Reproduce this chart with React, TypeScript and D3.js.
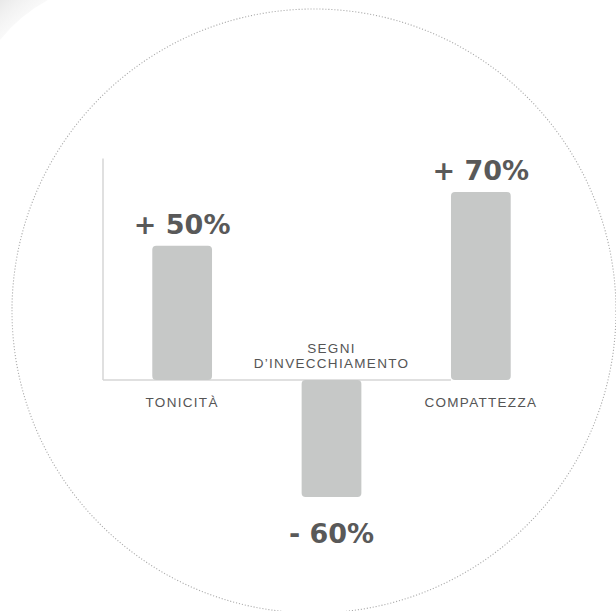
import { useEffect, useRef } from 'react';
import * as d3 from 'd3';

const categories = ['TONICITÀ', 'SEGNI\nD\u2019INVECCHIAMENTO', 'COMPATTEZZA'];
const values = [50, -60, 70];
const valueLabels = ['+ 50%', '- 60%', '+ 70%'];

const W = 616;
const H = 611;

export default function App() {
  const svgRef = useRef<SVGSVGElement>(null);

  useEffect(() => {
    if (!svgRef.current) return;
    const svg = d3.select(svgRef.current);
    svg.selectAll('*').remove();

    svg.append('rect').attr('width', W).attr('height', H).attr('fill', '#fff');

    // faint background swoosh, top left
    const grad = svg.append('defs').append('linearGradient')
      .attr('id', 'swoosh').attr('x1', 0).attr('y1', 0).attr('x2', 1).attr('y2', 1);
    grad.append('stop').attr('offset', 0).attr('stop-color', '#e9e9e9');
    grad.append('stop').attr('offset', 1).attr('stop-color', '#fff').attr('stop-opacity', 0);
    svg.append('path')
      .attr('d', 'M0,0 L48,0 Q20,15 0,40 Z')
      .attr('fill', 'url(#swoosh)');

    // decorative dotted circle
    svg.append('circle')
      .attr('cx', 314)
      .attr('cy', 311)
      .attr('r', 302)
      .attr('fill', 'none')
      .attr('stroke', '#a9a9a9')
      .attr('stroke-width', 1.1)
      .attr('stroke-dasharray', '1.1 1.9');

    const x = d3.scaleBand<string>()
      .domain(categories)
      .range([103, 560])
      .paddingInner(0.6)
      .paddingOuter(0.33);

    // the picture does not draw negative and positive bars to the same scale
    const y = d3.scaleLinear()
      .domain([-60, 0, 70])
      .range([497, 380, 192]);

    const g = svg.append('g');

    // axes
    g.append('line')
      .attr('x1', x.range()[0]).attr('x2', x.range()[0])
      .attr('y1', y(82.5)).attr('y2', y(0))
      .attr('stroke', '#d6d6d6').attr('stroke-width', 1.5);
    g.append('line')
      .attr('x1', x.range()[0]).attr('x2', x(categories[2])!)
      .attr('y1', y(0)).attr('y2', y(0))
      .attr('stroke', '#d6d6d6').attr('stroke-width', 1.5);

    const data = categories.map((c, i) => ({ c, v: values[i], label: valueLabels[i] }));

    // bars
    g.selectAll('.bar')
      .data(data)
      .enter()
      .append('rect')
      .attr('class', 'bar')
      .attr('x', d => x(d.c)!)
      .attr('width', x.bandwidth())
      .attr('y', d => Math.min(y(d.v), y(0)))
      .attr('height', d => Math.abs(y(d.v) - y(0)))
      .attr('rx', 4)
      .attr('fill', '#c6c8c7');

    // value labels
    g.selectAll('.val')
      .data(data)
      .enter()
      .append('text')
      .attr('class', 'val')
      .attr('x', d => x(d.c)! + x.bandwidth() / 2)
      .attr('y', d => d.v >= 0 ? y(d.v) - 12 : y(d.v) + 46)
      .attr('text-anchor', 'middle')
      .attr('font-family', '"DejaVu Sans", sans-serif')
      .attr('font-weight', 'bold')
      .attr('font-size', 27)
      .attr('fill', '#595959')
      .text(d => d.label);

    // category labels
    data.forEach(d => {
      const lines = d.c.split('\n');
      const t = g.append('text')
        .attr('text-anchor', 'middle')
        .attr('font-family', '"Liberation Sans", Arial, sans-serif')
        .attr('font-size', 13.5)
        .attr('letter-spacing', 1.3)
        .attr('fill', '#555');
      const cx = x(d.c)! + x.bandwidth() / 2;
      if (d.v >= 0) {
        t.attr('x', cx).attr('y', y(0) + 27).text(d.c);
      } else {
        lines.forEach((ln, i) => {
          t.append('tspan')
            .attr('x', cx)
            .attr('y', y(0) - 27 + i * 15)
            .text(ln);
        });
      }
    });
  }, []);

  return (
    <svg
      ref={svgRef}
      width={W}
      height={H}
      style={{ position: 'absolute', left: 0, top: 0, display: 'block' }}
    />
  );
}
